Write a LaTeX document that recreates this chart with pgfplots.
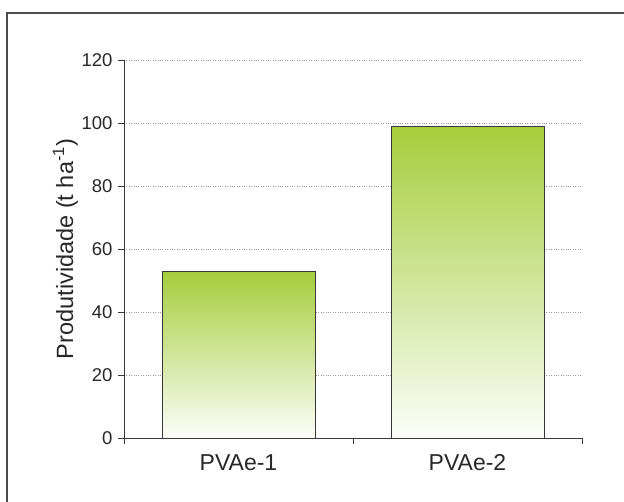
\documentclass[border=0pt]{standalone}
\usepackage{pgfplots}
\pgfplotsset{compat=1.18}
\usepackage{fontspec}
\setmainfont{Liberation Sans}
\definecolor{barg}{RGB}{165,205,60}
\definecolor{txt}{RGB}{40,40,40}
\definecolor{axc}{RGB}{55,55,55}
\begin{document}
\begin{tikzpicture}[x=1pt,y=1pt]
\useasboundingbox (0,0) rectangle (624,-501);
\draw[line width=2pt, color=axc!90] (7,-520) -- (7,-12.5) -- (640,-12.5);
\begin{axis}[
  at={(124pt,-438pt)}, anchor=south west,
  scale only axis, width=458pt, height=378pt,
  xmin=0, xmax=2, ymin=0, ymax=120,
  axis x line*=bottom, axis y line*=left,
  axis line style={color=axc, line width=1pt},
  ytick={0,20,...,120},
  xtick={0,1,2}, xticklabels={},
  extra x ticks={0.5,1.5},
  extra x tick labels={PVAe-1,PVAe-2},
  extra x tick style={major tick length=0pt, tick label style={font=\fontsize{23}{24}\selectfont, yshift=-13pt}, grid=none},
  tick align=outside,
  major tick length=6pt,
  tick style={color=axc, line width=1pt},
  ymajorgrids,
  grid style={dotted, color=gray!80, line width=0.8pt},
  /pgf/number format/assume math mode=true,
  tick label style={color=txt, font=\fontsize{18.5}{20}\selectfont},
  yticklabel style={xshift=-2pt},
  ylabel={Produtividade (t ha\textsuperscript{-1})},
  every axis y label/.style={at={(axis description cs:-0.128,0.5)}, rotate=90, anchor=center, font=\fontsize{23.5}{24}\selectfont, color=txt},
  clip=false,
]
\addplot[ybar, bar width=153pt, bar shift=0pt, draw=axc, line width=1pt,
  top color=barg, bottom color=white!97!barg] coordinates {(0.5,53)};
\addplot[ybar, bar width=153pt, bar shift=0pt, draw=axc, line width=1pt,
  top color=barg, bottom color=white!97!barg] coordinates {(1.5,99)};
\end{axis}
\end{tikzpicture}
\end{document}
